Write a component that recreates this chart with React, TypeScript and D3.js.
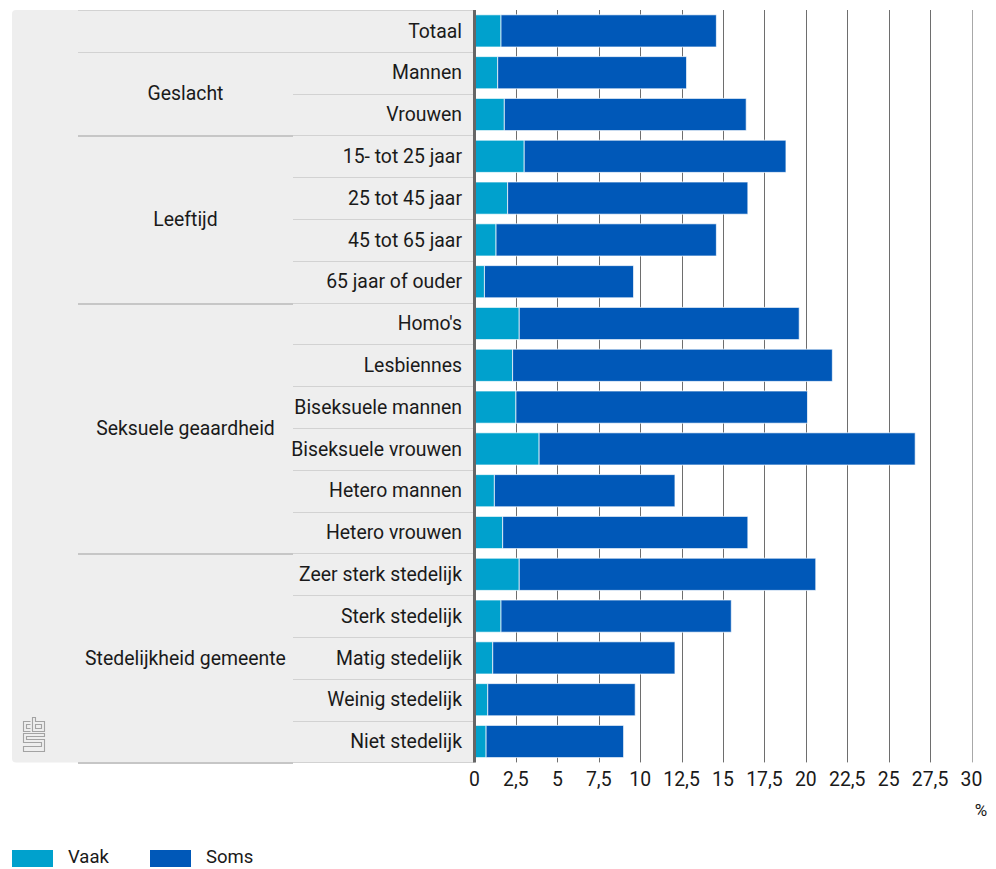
import React from "react";
import * as d3 from "d3";

const categories = [
  "Totaal",
  "Mannen", "Vrouwen",
  "15- tot 25 jaar", "25 tot 45 jaar", "45 tot 65 jaar", "65 jaar of ouder",
  "Homo's", "Lesbiennes", "Biseksuele mannen", "Biseksuele vrouwen", "Hetero mannen", "Hetero vrouwen",
  "Zeer sterk stedelijk", "Sterk stedelijk", "Matig stedelijk", "Weinig stedelijk", "Niet stedelijk",
];
const groupNames = ["", "Geslacht", "Leeftijd", "Seksuele geaardheid", "Stedelijkheid gemeente"];
const groupSizes = [1, 2, 4, 6, 5];
const vaak = [1.6, 1.4, 1.8, 3.0, 2.0, 1.3, 0.6, 2.7, 2.3, 2.5, 3.9, 1.2, 1.7, 2.7, 1.6, 1.1, 0.8, 0.7];
const soms = [13.0, 11.4, 14.6, 15.8, 14.5, 13.3, 9.0, 16.9, 19.3, 17.6, 22.7, 10.9, 14.8, 17.9, 13.9, 11.0, 8.9, 8.3];
const ticks = [0, 2.5, 5, 7.5, 10, 12.5, 15, 17.5, 20, 22.5, 25, 27.5, 30];
const seriesNames = ["Vaak", "Soms"];
const seriesColors = ["#00a1cd", "#0058b8"];

const W = 996, H = 869;
const TOP = 10, BOTTOM = 762.4;
const AXIS_X = 474.5;
const FONT = "Roboto, 'Noto Sans', sans-serif";
const FS = 19.4;

export default function App() {
  const x = d3.scaleLinear().domain([0, 30]).range([AXIS_X, 971.5]);
  const y = d3.scaleBand<string>().domain(categories).range([TOP, BOTTOM]).paddingInner(0.23).paddingOuter(0.115);
  const step = y.step();
  const fmt = (v: number) => String(v).replace(".", ",");

  const groups: { name: string; start: number; end: number }[] = [];
  let acc = 0;
  groupSizes.forEach((s, i) => {
    groups.push({ name: groupNames[i], start: acc, end: acc + s });
    acc += s;
  });
  const rowEdge = (k: number) => TOP + k * step;
  const groupEdges = new Set<number>();
  groups.forEach((g) => { groupEdges.add(g.start); groupEdges.add(g.end); });

  const stack = categories.map((c, i) => ({ c, v: vaak[i], s: soms[i] }));

  return (
    <div style={{ position: "absolute", left: 0, top: 0 }}>
      <svg width={W} height={H} style={{ display: "block", fontFamily: FONT }}>
        <rect x={12} y={TOP} width={AXIS_X - 12} height={BOTTOM - TOP} rx={4} fill="#eeeeee" />
        {d3.range(0, categories.length + 1).map((k) => {
          const yy = Math.round(rowEdge(k)) + 0.5;
          const x0 = groupEdges.has(k) ? 78 : 293;
          return <line key={"l" + k} x1={x0} x2={AXIS_X} y1={yy} y2={yy} stroke="#d2d2d2" strokeWidth={1} />;
        })}
        {groups.filter((g) => g.name).map((g, i) => {
          const yy = Math.round(rowEdge(g.end)) + 1;
          return <line key={"g" + i} x1={78} x2={293} y1={yy} y2={yy} stroke="#c6c6c6" strokeWidth={2} />;
        })}
        {/* cbs logo */}
        <g fill="none" stroke="#a3a3a3" strokeWidth={1.1}>
          <path d="M30.5,721.5 H23.5 V731.5 H30.5 M30.5,724.5 H26.5 V728.5 H30.5" />
          <path d="M32.5,717.5 V731.5 H44.5 V721.5 H35.5 V717.5 Z M35.5,724.5 H41.5 V728.5 H35.5 Z" />
          <path d="M44.5,733.5 H23.5 V742.5 H41.5 V746.5 H23.5 V751.5 H44.5 V739.5 H26.5 V736.5 H44.5 Z" />
        </g>
        {ticks.map((t) => {
          const xx = Math.round(x(t)) + 0.5;
          return t === 0 ? null : (
            <line key={"t" + t} x1={xx} x2={xx} y1={TOP} y2={BOTTOM} stroke={t === 30 ? "#a8a8a8" : "#6e6e6e"} strokeWidth={1} />
          );
        })}
        {stack.map((d) => {
          const yy = y(d.c)!;
          const bh = y.bandwidth();
          return (
            <g key={d.c}>
              <rect x={x(0)} y={yy} width={x(d.v) - x(0)} height={bh} fill={seriesColors[0]} stroke="#ffffff" strokeOpacity={0.7} strokeWidth={1} />
              <rect x={x(d.v)} y={yy} width={x(d.v + d.s) - x(d.v)} height={bh} fill={seriesColors[1]} stroke="#ffffff" strokeOpacity={0.7} strokeWidth={1} />
            </g>
          );
        })}
        <line x1={AXIS_X} x2={AXIS_X} y1={TOP} y2={BOTTOM} stroke="#666666" strokeWidth={3} />
        {categories.map((c) => (
          <text key={"c" + c} x={462} y={y(c)! + y.bandwidth() / 2} dy="0.35em" textAnchor="end" fontSize={FS} fill="#1a1a1a">
            {c}
          </text>
        ))}
        {groups.filter((g) => g.name).map((g) => (
          <text key={"gl" + g.name} x={185.5} y={(rowEdge(g.start) + rowEdge(g.end)) / 2} dy="0.35em" textAnchor="middle" fontSize={FS} fill="#1a1a1a">
            {g.name}
          </text>
        ))}
        {ticks.map((t) => (
          <text key={"tl" + t} x={x(t)} y={779} dy="0.35em" textAnchor="middle" fontSize={FS} fill="#1a1a1a">
            {fmt(t)}
          </text>
        ))}
        <text x={981} y={810} dy="0.35em" textAnchor="middle" fontSize={17} fill="#1a1a1a">%</text>
        {seriesNames.map((n, i) => (
          <g key={n} transform={`translate(${12 + i * 138},850)`}>
            <rect x={0} y={0} width={41} height={17} fill={seriesColors[i]} />
            <text x={56} y={13} fontSize={18.5} fill="#1a1a1a">{n}</text>
          </g>
        ))}
      </svg>
    </div>
  );
}
